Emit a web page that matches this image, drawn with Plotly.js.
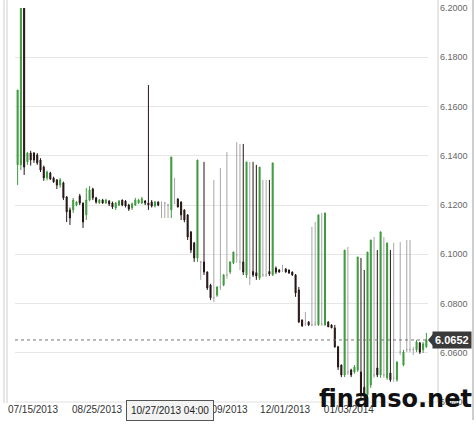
<!DOCTYPE html>
<html><head><meta charset="utf-8">
<script src="https://cdn.plot.ly/plotly-3.0.1.min.js"></script>
<style>html,body{margin:0;padding:0;background:#fff;}#chart{width:476px;height:426px;}</style>
</head><body><div id="chart"></div>
<script>
// OHLC values (USD/CNY-like quotes), in session order
const openP = [6.1363,6.1363,6.2100,6.1375,6.1411,6.1411,6.1403,6.1383,6.1354,6.1310,
6.1330,6.1310,6.1302,6.1281,6.1290,6.1233,6.1180,6.1180,6.1200,6.1237,
6.1208,6.1160,6.1220,6.1265,6.1229,6.1208,6.1220,6.1208,6.1216,6.1208,
6.1188,6.1200,6.1220,6.1216,6.1200,6.1188,6.1200,6.1208,6.1208,6.1216,
6.1208,6.1212,6.1196,6.1212,6.1208,6.1208,6.1200,6.1180,6.1208,6.1224,
6.1212,6.1180,6.1160,6.1091,6.1046,6.0985,6.0969,6.0969,6.0928,6.0875,
6.0823,6.0834,6.0867,6.0875,6.0916,6.0928,6.0965,6.0997,6.0969,6.0969,
6.0916,6.0904,6.0930,6.0925,6.0904,6.0916,6.0916,6.0930,6.0916,6.0944,
6.0936,6.0936,6.0940,6.0936,6.0928,6.0916,6.0855,6.0733,6.0717,6.0725,
6.0713,6.0717,6.0713,6.0717,6.0713,6.0725,6.0713,6.0701,6.0624,6.0550,
6.0510,6.0522,6.0530,6.0522,6.0530,6.0522,6.0460,6.0429,6.0469,6.0510,
6.0538,6.0510,6.0510,6.0498,6.0518,6.0498,6.0490,6.0603,6.0550,6.0612,
6.0612,6.0612,6.0612,6.0640,6.0612,6.0624];
const highP = [6.1667,6.2150,6.2150,6.1415,6.1420,6.1415,6.1411,6.1390,6.1360,6.1340,
6.1335,6.1315,6.1305,6.1310,6.1295,6.1235,6.1190,6.1229,6.1215,6.1245,
6.1210,6.1269,6.1277,6.1270,6.1233,6.1225,6.1225,6.1225,6.1220,6.1214,
6.1212,6.1220,6.1222,6.1220,6.1205,6.1210,6.1229,6.1225,6.1233,6.1220,
6.1687,6.1220,6.1216,6.1215,6.1215,6.1212,6.1205,6.1395,6.1310,6.1228,
6.1215,6.1182,6.1162,6.1093,6.1050,6.1383,6.0972,6.1375,6.0930,6.0880,
6.1302,6.0870,6.1350,6.0920,6.1415,6.0970,6.1010,6.1456,6.1448,6.1448,
6.1375,6.1375,6.1375,6.1363,6.1354,6.1302,6.1302,6.1302,6.1371,6.0950,
6.0940,6.0957,6.0944,6.0938,6.0930,6.0920,6.0867,6.0735,6.0766,6.0728,
6.1111,6.1131,6.1160,6.1168,6.1168,6.0728,6.0715,6.0713,6.0628,6.0552,
6.1017,6.1030,6.0535,6.0550,6.0989,6.0985,6.0936,6.1009,6.1058,6.1070,
6.1017,6.1091,6.1070,6.1046,6.1017,6.1046,6.0563,6.1050,6.0612,6.1058,
6.1058,6.0624,6.0652,6.0644,6.0644,6.0681];
const lowP = [6.1281,6.1342,6.1322,6.1363,6.1360,6.1371,6.1363,6.1334,6.1298,6.1300,
6.1302,6.1290,6.1265,6.1270,6.1220,6.1131,6.1119,6.1168,6.1195,6.1200,
6.1107,6.1139,6.1215,6.1220,6.1205,6.1205,6.1205,6.1205,6.1196,6.1184,
6.1180,6.1196,6.1195,6.1190,6.1176,6.1180,6.1196,6.1205,6.1204,6.1200,
6.1180,6.1190,6.1190,6.1195,6.1147,6.1147,6.1147,6.1147,6.1205,6.1190,
6.1139,6.1130,6.1058,6.1005,6.0969,6.0969,6.0896,6.0916,6.0855,6.0814,
6.0806,6.0827,6.0855,6.0870,6.0900,6.0920,6.0960,6.0965,6.0936,6.0916,
6.0904,6.0875,6.0908,6.0896,6.0896,6.0908,6.0908,6.0912,6.0912,6.0920,
6.0925,6.0928,6.0925,6.0920,6.0912,6.0827,6.0721,6.0705,6.0709,6.0709,
6.0709,6.0709,6.0709,6.0709,6.0709,6.0705,6.0700,6.0620,6.0530,6.0501,
6.0501,6.0510,6.0501,6.0515,6.0522,6.0408,6.0408,6.0408,6.0457,6.0498,
6.0501,6.0498,6.0498,6.0490,6.0482,6.0482,6.0482,6.0591,6.0545,6.0603,
6.0603,6.0591,6.0603,6.0595,6.0599,6.0620];
const closeP = [6.1667,6.2100,6.1354,6.1411,6.1383,6.1383,6.1371,6.1342,6.1310,6.1334,
6.1306,6.1294,6.1281,6.1302,6.1229,6.1172,6.1147,6.1220,6.1212,6.1208,
6.1131,6.1220,6.1261,6.1229,6.1212,6.1220,6.1208,6.1220,6.1204,6.1192,
6.1208,6.1216,6.1200,6.1196,6.1184,6.1204,6.1220,6.1220,6.1225,6.1208,
6.1200,6.1196,6.1212,6.1200,6.1208,6.1208,6.1200,6.1395,6.1208,6.1192,
6.1160,6.1139,6.1070,6.1017,6.0985,6.1383,6.0969,6.0928,6.0863,6.0823,
6.0823,6.0867,6.0867,6.0916,6.0916,6.0969,6.1009,6.0997,6.0969,6.0928,
6.1375,6.0904,6.0916,6.0912,6.1354,6.0916,6.0916,6.0920,6.1371,6.0928,
6.0928,6.0936,6.0928,6.0924,6.0916,6.0843,6.0725,6.0709,6.0717,6.0713,
6.0713,6.0717,6.1160,6.0717,6.1168,6.0705,6.0701,6.0624,6.0542,6.0510,
6.1017,6.0522,6.0510,6.0542,6.0989,6.0437,6.0429,6.1009,6.1058,6.0510,
6.0510,6.1091,6.0510,6.1046,6.0490,6.0498,6.0563,6.0603,6.0603,6.0612,
6.0612,6.0612,6.0644,6.0603,6.0636,6.0652];

// x-axis ticks (session positions) and their labels
const tickSessions = [4.7, 24.3, 62.8, 81.8, 101.3, 126.1];
const tickLabels = ["07/15/2013","08/25/2013","11/09/2013","12/01/2013","01/03/2014","02/13/2014"];
const priceTicks = [6.04,6.06,6.08,6.10,6.12,6.14,6.16,6.18,6.20];
const crosshairLabel = "10/27/2013 04:00";
const watermark = "finanso.net";

const sessions = openP.map((_, i) => i);
const GREEN = '#3f9a3f', DARK = '#241514', GRAY = '#a6a6a6';

function subset(pred) {
  const o = {x:[], open:[], high:[], low:[], close:[]};
  sessions.forEach(i => {
    if (pred(openP[i], closeP[i])) {
      o.x.push(i); o.open.push(openP[i]); o.high.push(highP[i]);
      o.low.push(lowP[i]); o.close.push(closeP[i]);
    }
  });
  return o;
}
function candle(d, color) {
  return Object.assign({
    type: 'candlestick', hoverinfo: 'none', showlegend: false, whiskerwidth: 0,
    increasing: {line: {color: color, width: 1}, fillcolor: color},
    decreasing: {line: {color: color, width: 1}, fillcolor: color}
  }, d);
}
const traces = [
  candle(subset((o, c) => c === o), GRAY),
  candle(subset((o, c) => c > o), GREEN),
  candle(subset((o, c) => c < o), DARK)
];

const last = closeP[closeP.length - 1];
const px = v => (v - 15) / 413;          // paper x from layout pixels
const py = v => (402 - v) / 394;         // paper y from layout pixels
const FONT = 'Liberation Sans, Arial, sans-serif';
const layout = {
  width: 476, height: 426,
  margin: {l: 15, r: 48, t: 8, b: 24},
  paper_bgcolor: '#ffffff', plot_bgcolor: '#ffffff',
  boxmode: 'overlay', boxgap: 0.55,
  xaxis: {
    range: [-0.8, 125.5], tickvals: tickSessions, ticktext: tickLabels,
    tickfont: {family: FONT, size: 10, color: '#333'},
    showgrid: false, zeroline: false, showline: false, ticks: '',
    rangeslider: {visible: false}, fixedrange: true
  },
  yaxis: {
    side: 'right', range: [6.04, 6.20], tickvals: priceTicks, tickformat: '.4f',
    tickfont: {family: FONT, size: 9, color: '#666'},
    gridcolor: '#e6e6e6', gridwidth: 1, zeroline: false, showline: false, ticks: '',
    ticklabelstandoff: 11, fixedrange: true
  },
  shapes: [
    {type: 'line', xref: 'paper', yref: 'y', x0: 0, x1: 1, y0: last, y1: last,
     line: {color: '#777', width: 1, dash: 'dot'}},
    {type: 'line', xref: 'paper', yref: 'paper', x0: px(438), x1: px(438), y0: 0, y1: 1.02,
     line: {color: '#cfcfcf', width: 1}},
    {type: 'line', xref: 'paper', yref: 'paper', x0: px(473), x1: px(473), y0: py(420), y1: 1.02,
     line: {color: '#cfcfcf', width: 2}},
    {type: 'line', xref: 'paper', yref: 'paper', x0: px(4), x1: px(4), y0: py(403), y1: 1.02,
     line: {color: '#cfcfcf', width: 1}},
    {type: 'line', xref: 'paper', yref: 'paper', x0: px(7), x1: px(7), y0: py(403), y1: 1.02,
     line: {color: '#cfcfcf', width: 1}},
    {type: 'line', xref: 'paper', yref: 'paper', x0: 0, x1: px(438), y0: 0, y1: 0,
     line: {color: '#e0e0e0', width: 1}},
    {type: 'path', xref: 'paper', yref: 'y',
     path: 'M ' + px(434) + ',' + (last + 0.0029) + ' L ' + px(428) + ',' + last + ' L ' + px(434) + ',' + (last - 0.0029) + ' Z',
     fillcolor: '#3a3a3a', line: {width: 0}}
  ],
  annotations: [
    {text: last.toFixed(4), xref: 'paper', yref: 'y', x: px(452), y: last, showarrow: false,
     xanchor: 'center', yanchor: 'middle', bgcolor: '#3a3a3a', borderpad: 2,
     font: {family: FONT, size: 11, color: '#fff', weight: 'bold'}},
    {text: crosshairLabel, xref: 'paper', yref: 'paper', x: px(170), y: py(411),
     xanchor: 'center', yanchor: 'middle', showarrow: false,
     bgcolor: '#f3f3f3', bordercolor: '#555', borderwidth: 1, borderpad: 4,
     font: {family: FONT, size: 10, color: '#222'}},
    {text: watermark, xref: 'paper', yref: 'paper', x: px(395), y: py(399),
     xanchor: 'center', yanchor: 'middle', showarrow: false,
     font: {family: 'DejaVu Sans, sans-serif', size: 24, color: '#111', weight: 'bold'}}
  ]
};
Plotly.newPlot('chart', traces, layout, {displayModeBar: false, staticPlot: true});
</script></body></html>
